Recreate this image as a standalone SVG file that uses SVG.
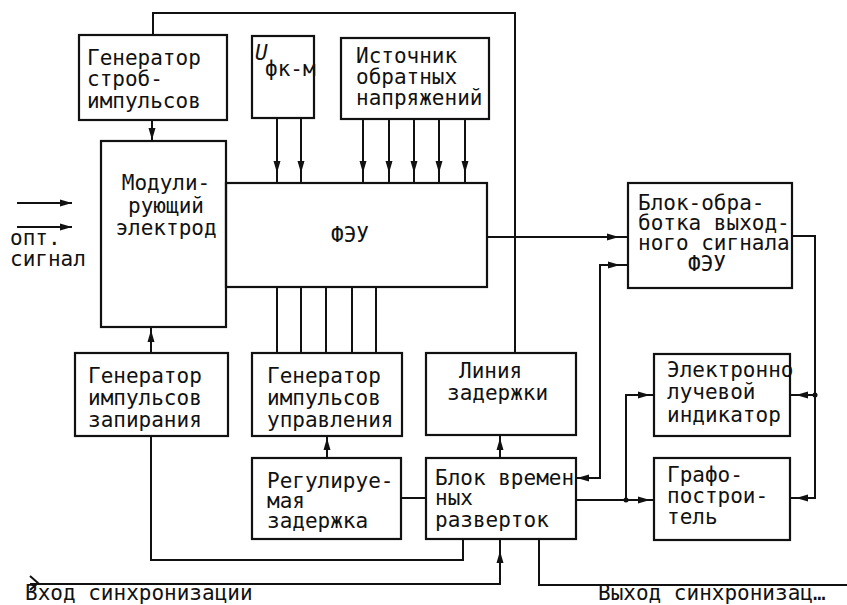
<svg xmlns="http://www.w3.org/2000/svg" xmlns:xlink="http://www.w3.org/1999/xlink" width="847" height="605" viewBox="0 0 847 605">
<style>
.box{fill:none;stroke:#111;stroke-width:2.2}
.ln{fill:none;stroke:#111;stroke-width:2}
text{font-family:"DejaVu Sans Mono","Liberation Mono",monospace;font-size:21px;fill:#111}
.c{text-anchor:middle}
</style>
<defs>
<path id="ah" d="M0,0 L-12,-3.5 L-12,3.5 Z" fill="#111"/>
</defs>
<rect width="847" height="605" fill="#fff"/>

<g id="connectors">
<polyline class="ln" points="515,353 515,13 153,13 153,35"/>
<line class="ln" x1="152" y1="120" x2="152" y2="141"/>
<line class="ln" x1="277" y1="118" x2="277" y2="183"/>
<line class="ln" x1="301" y1="118" x2="301" y2="183"/>
<line class="ln" x1="363" y1="119" x2="363" y2="183"/>
<line class="ln" x1="389" y1="119" x2="389" y2="183"/>
<line class="ln" x1="414" y1="119" x2="414" y2="183"/>
<line class="ln" x1="439" y1="119" x2="439" y2="183"/>
<line class="ln" x1="465" y1="119" x2="465" y2="183"/>
<line class="ln" x1="17" y1="203" x2="72" y2="203"/>
<line class="ln" x1="17" y1="227" x2="72" y2="227"/>
<line class="ln" x1="151" y1="327" x2="151" y2="353"/>
<line class="ln" x1="277" y1="287" x2="277" y2="353"/>
<line class="ln" x1="301" y1="287" x2="301" y2="353"/>
<line class="ln" x1="326" y1="287" x2="326" y2="353"/>
<line class="ln" x1="352" y1="287" x2="352" y2="353"/>
<line class="ln" x1="376" y1="287" x2="376" y2="353"/>
<line class="ln" x1="327" y1="436" x2="327" y2="458"/>
<line class="ln" x1="500" y1="436" x2="500" y2="458"/>
<line class="ln" x1="401" y1="498" x2="426" y2="498"/>
<polyline class="ln" points="151,436 151,560 463,560 463,540"/>
<polyline class="ln" points="30,584 500,584 500,540"/>
<path class="ln" d="M30,576 L38,583 L30,590" stroke-width="1.6"/>
<polyline class="ln" points="539,540 539,585 847,585"/>
<line class="ln" x1="487" y1="237" x2="628" y2="237"/>
<polyline class="ln" points="576,478 600,478 600,265 628,265"/>
<polyline class="ln" points="792,236 815,236 815,498 790,498"/>
<line class="ln" x1="815" y1="395" x2="790" y2="395"/>
<line class="ln" x1="576" y1="500" x2="654" y2="500"/>
<polyline class="ln" points="626,500 626,395 654,395"/>
<circle cx="626" cy="500" r="2.5" fill="#111"/>
<circle cx="815" cy="395" r="2.5" fill="#111"/>
<use xlink:href="#ah" transform="translate(152,140) rotate(90)"/>
<use xlink:href="#ah" transform="translate(277,173) rotate(90)"/>
<use xlink:href="#ah" transform="translate(301,173) rotate(90)"/>
<use xlink:href="#ah" transform="translate(363,173) rotate(90)"/>
<use xlink:href="#ah" transform="translate(389,173) rotate(90)"/>
<use xlink:href="#ah" transform="translate(414,173) rotate(90)"/>
<use xlink:href="#ah" transform="translate(439,173) rotate(90)"/>
<use xlink:href="#ah" transform="translate(465,173) rotate(90)"/>
<use xlink:href="#ah" transform="translate(72,203)"/>
<use xlink:href="#ah" transform="translate(72,227)"/>
<use xlink:href="#ah" transform="translate(151,330) rotate(-90)"/>
<use xlink:href="#ah" transform="translate(327,438) rotate(-90)"/>
<use xlink:href="#ah" transform="translate(500,438) rotate(-90)"/>
<use xlink:href="#ah" transform="translate(500,551) rotate(-90)"/>
<use xlink:href="#ah" transform="translate(619,237)"/>
<use xlink:href="#ah" transform="translate(620,265)"/>
<use xlink:href="#ah" transform="translate(577,478) rotate(180)"/>
<use xlink:href="#ah" transform="translate(650,500)"/>
<use xlink:href="#ah" transform="translate(650,395)"/>
<use xlink:href="#ah" transform="translate(796,395) rotate(180)"/>
<use xlink:href="#ah" transform="translate(796,498) rotate(180)"/>
</g>

<g id="gen-strob">
<rect class="box" x="79" y="35" width="148" height="85"/>
<text x="87" y="65">Генератор</text>
<text x="87" y="86">строб-</text>
<text x="87" y="108">импульсов</text>
</g>

<g id="u-fk">
<rect class="box" x="252" y="36" width="62" height="82"/>
<text x="255" y="60" font-style="italic" font-size="22">U</text>
<text x="265" y="76">фк-м</text>
</g>

<g id="source">
<rect class="box" x="341" y="38" width="148" height="81"/>
<text x="356" y="63">Источник</text>
<text x="356" y="84">обратных</text>
<text x="356" y="105">напряжений</text>
</g>

<g id="mod-electrode">
<rect class="box" x="101" y="141" width="125" height="186"/>
<text class="c" x="166" y="190">Модули-</text>
<text class="c" x="166" y="213">рующий</text>
<text class="c" x="166" y="235">электрод</text>
</g>

<g id="feu">
<rect class="box" x="226" y="183" width="261" height="104"/>
<text class="c" x="350" y="242">ФЭУ</text>
</g>

<g id="opt-signal">
<text x="10" y="245">опт.</text>
<text x="10" y="266">сигнал</text>
</g>

<g id="proc">
<rect class="box" x="628" y="183" width="164" height="105"/>
<text x="638" y="210">Блок-обра-</text>
<text x="638" y="230">ботка выход-</text>
<text x="638" y="250">ного сигнала</text>
<text class="c" x="707" y="271">ФЭУ</text>
</g>

<g id="gen-lock">
<rect class="box" x="75" y="353" width="153" height="83"/>
<text x="88" y="383">Генератор</text>
<text x="88" y="405">импульсов</text>
<text x="88" y="427">запирания</text>
</g>

<g id="gen-ctrl">
<rect class="box" x="252" y="353" width="150" height="83"/>
<text x="267" y="383">Генератор</text>
<text x="267" y="405">импульсов</text>
<text x="267" y="427">управления</text>
</g>

<g id="delay-line">
<rect class="box" x="426" y="353" width="150" height="82"/>
<text x="459" y="378">Линия</text>
<text x="447" y="400">задержки</text>
</g>

<g id="crt">
<rect class="box" x="654" y="354" width="136" height="82"/>
<text x="667" y="377">Электронно</text>
<text x="667" y="399">лучевой</text>
<text x="667" y="422">индикатор</text>
</g>

<g id="adj-delay">
<rect class="box" x="252" y="458" width="149" height="81"/>
<text x="267" y="488">Регулируе-</text>
<text x="267" y="508">мая</text>
<text x="267" y="528">задержка</text>
</g>

<g id="sweep">
<rect class="box" x="426" y="458" width="150" height="81"/>
<text x="435" y="485">Блок времен</text>
<text x="435" y="505">ных</text>
<text x="435" y="527">разверток</text>
</g>

<g id="plotter">
<rect class="box" x="654" y="458" width="136" height="82"/>
<text x="667" y="482">Графо-</text>
<text x="667" y="503">построи-</text>
<text x="667" y="524">тель</text>
</g>

<g id="sync-labels">
<text x="25" y="600">Вход синхронизации</text>
<text x="598" y="600">Выход синхронизац…</text>
</g>
</svg>
